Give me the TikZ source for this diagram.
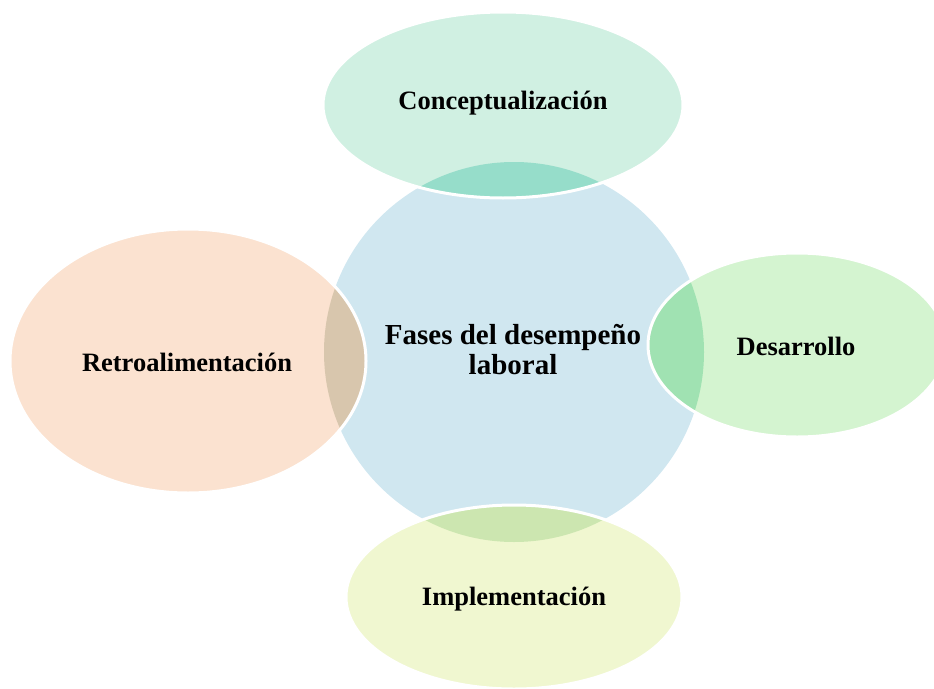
\documentclass[tikz,border=0pt]{standalone}
\usepackage{fontspec}
\setmainfont{Liberation Serif}
\usetikzlibrary{positioning}

\definecolor{centrofill}{HTML}{D0E7F0}
\definecolor{conceptofill}{HTML}{D0F0E2}
\definecolor{conceptoover}{HTML}{96DDCA}
\definecolor{desarrollofill}{HTML}{D4F4D0}
\definecolor{desarrolloover}{HTML}{A0E2B2}
\definecolor{retrofill}{HTML}{FBE2D0}
\definecolor{retroover}{HTML}{D8C6AD}
\definecolor{implefill}{HTML}{F0F7D0}
\definecolor{impleover}{HTML}{CCE6B0}

\tikzset{
  fase/.style={font=\bfseries\fontsize{26.5}{30}\selectfont, align=center, inner sep=0pt},
  rim/.style={draw=white, line width=3pt},
}

\begin{document}
\begin{tikzpicture}[x=1pt, y=-1pt]
    \useasboundingbox (0,0) rectangle (934,688);

    % centro
    \fill[centrofill] (514,352) circle (190pt);

    % Conceptualizacion
    \fill[conceptofill] (503,105) ellipse (180pt and 93pt);
    \begin{scope}
      \clip (514,352) circle (190pt);
      \fill[conceptoover] (503,105) ellipse (180pt and 93pt);
    \end{scope}
    \draw[rim] (503,105) ellipse (180pt and 93pt);

    % Desarrollo
    \fill[desarrollofill] (797,345) ellipse (149pt and 92pt);
    \begin{scope}
      \clip (514,352) circle (190pt);
      \fill[desarrolloover] (797,345) ellipse (149pt and 92pt);
    \end{scope}
    \draw[rim] (797,345) ellipse (149pt and 92pt);

    % Implementacion
    \fill[implefill] (514,597) ellipse (168pt and 92pt);
    \begin{scope}
      \clip (514,352) circle (190pt);
      \fill[impleover] (514,597) ellipse (168pt and 92pt);
    \end{scope}
    \draw[rim] (514,597) ellipse (168pt and 92pt);

    % Retroalimentacion
    \fill[retrofill] (188,361) ellipse (178pt and 132pt);
    \begin{scope}
      \clip (514,352) circle (190pt);
      \fill[retroover] (188,361) ellipse (178pt and 132pt);
    \end{scope}
    \draw[rim] (188,361) ellipse (178pt and 132pt);

    \node[fase, font=\bfseries\fontsize{29}{30}\selectfont] (centro) at (513,350) {Fases del desempeño\\laboral};
    \node[fase] (concepto) at (503,103) {Conceptualización};
    \node[fase] (desarrollo) at (796,346) {Desarrollo};
    \node[fase] (imple) at (514,599) {Implementación};
    \node[fase] (retro) at (187,362) {Retroalimentación};
  \end{tikzpicture}
\end{document}
